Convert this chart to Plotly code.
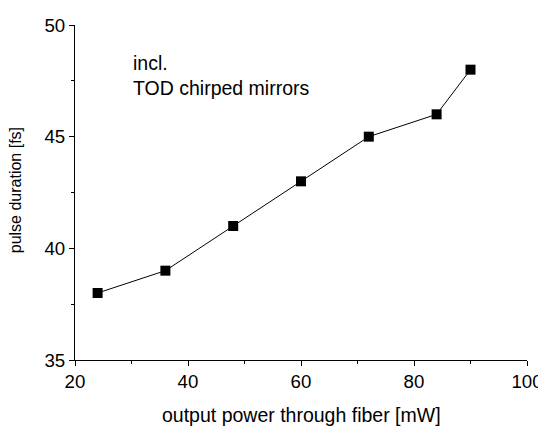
import plotly.graph_objects as go

power_mw = [24, 36, 48, 60, 72, 84, 90]
pulse_fs = [38, 39, 41, 43, 45, 46, 48]
x_ticks = [20, 40, 60, 80, 100]
y_ticks = [35, 40, 45, 50]
note_lines = ["incl.", "TOD chirped mirrors"]
x_title = "output power through fiber [mW]"
y_title = "pulse duration [fs]"

FONT = "Liberation Sans, Arial, sans-serif"

fig = go.Figure()
fig.add_trace(go.Scatter(
    x=power_mw, y=pulse_fs, mode="lines+markers",
    line=dict(color="black", width=1),
    marker=dict(symbol="square", size=10, color="black"),
    showlegend=False,
))

axis_common = dict(
    showline=True, linecolor="black", linewidth=1,
    showgrid=False, zeroline=False, automargin=False,
    ticks="outside", ticklen=5, tickwidth=1, tickcolor="black",
    tickfont=dict(family=FONT, size=18.7, color="black"),
    minor=dict(ticks="outside", ticklen=3, tickwidth=1, tickcolor="black"),
)

fig.update_xaxes(range=[20, 100], tickvals=x_ticks, ticktext=[str(v) for v in x_ticks],
                 minor_dtick=10, **axis_common)
fig.update_yaxes(range=[35, 50], tickvals=y_ticks, ticktext=[str(v) for v in y_ticks],
                 minor_dtick=2.5, **axis_common)

fig.add_annotation(x=0.5, y=-0.164, xref="paper", yref="paper", text=x_title,
                   showarrow=False, xanchor="center", yanchor="middle",
                   font=dict(family=FONT, size=19.5, color="black"))
fig.add_annotation(x=-0.1325, y=0.507, xref="paper", yref="paper", text=y_title,
                   showarrow=False, xanchor="center", yanchor="middle", textangle=-90,
                   font=dict(family=FONT, size=16, color="black"))

note_y = [48.30, 47.18]
for line, yv in zip(note_lines, note_y):
    fig.add_annotation(x=29.9, y=yv, xref="x", yref="y", text=line,
                       showarrow=False, xanchor="left", yanchor="middle",
                       font=dict(family=FONT, size=19.5, color="black"))

# the page body adds an 8px offset, so the margins are shifted to compensate
fig.update_layout(
    width=546, height=428,
    margin=dict(l=67, r=26.5, t=17, b=76),
    paper_bgcolor="white", plot_bgcolor="white",
)

fig.write_html("out.html")
